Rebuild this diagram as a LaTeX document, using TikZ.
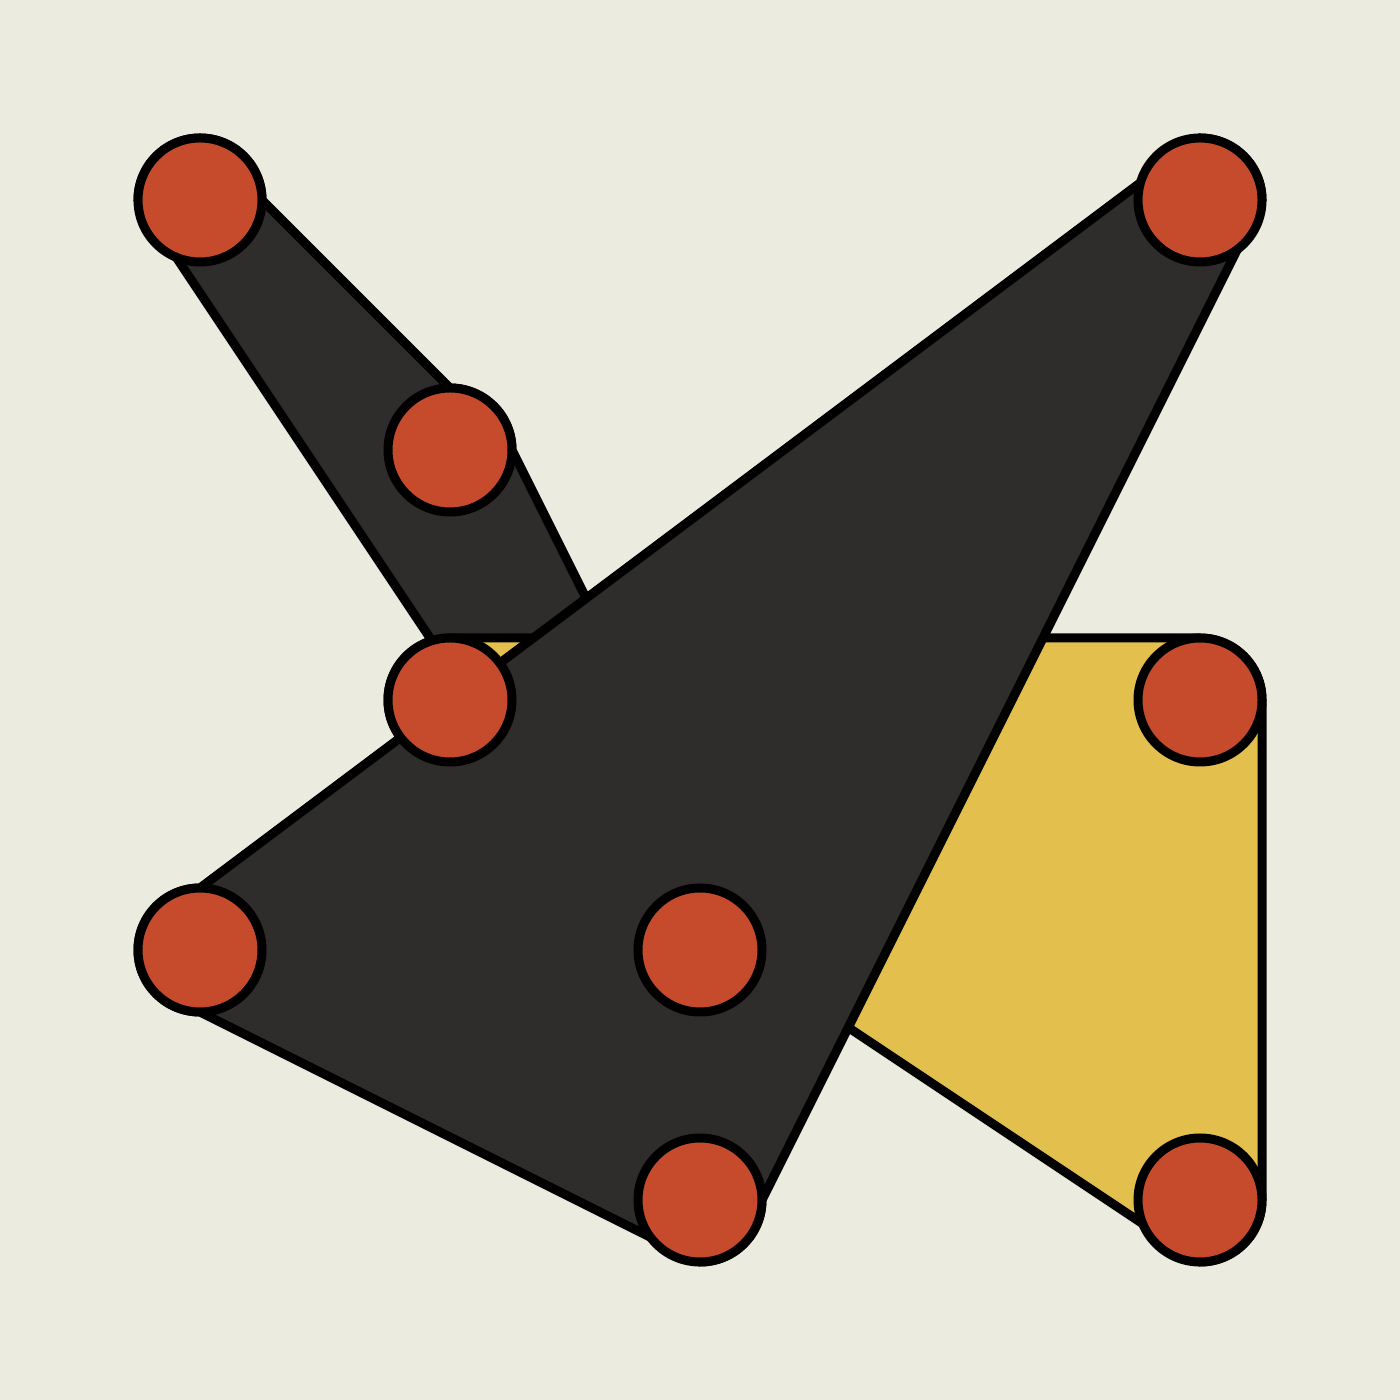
\documentclass[tikz,border=0pt]{standalone}
\usetikzlibrary{backgrounds}
\definecolor{paper}{HTML}{ECEBDF}
\definecolor{hulldark}{HTML}{2F2D2B}
\definecolor{hullgold}{HTML}{E3BF4D}
\definecolor{dotred}{HTML}{C64B2D}
\begin{document}
\begin{tikzpicture}
\tikzstyle{every node}=[minimum size=12.4mm, inner sep=0pt, outer sep=0pt, circle, draw=black, line width=0.9mm, fill=dotred]
\tikzstyle{hull}=[line width=0.9mm, draw=black, radius=6.2mm]
\draw (2,12) node (v1) {};
\draw (4.5,9.5) node (v2) {};
\draw (12,12) node (v3) {};
\draw (4.5,7) node (v4) {};
\draw (12,7) node (v5) {};
\draw (2,4.5) node (v6) {};
\draw (7,4.5) node (v7) {};
\draw (7,2) node (v8) {};
\draw (12,2) node (v9) {};
\begin{scope}[on background layer]
\fill[paper] (0,0) rectangle (14,14);
\draw[hull, fill=hulldark] (v1.west) arc[start angle=180, end angle=0] -- (v2.north) arc[start angle=90, end angle=0] -- (v7.east) arc[start angle=0, end angle=-180] -- cycle;
\draw[hull, fill=hullgold] (v4.north) -- (v5.north) arc[start angle=90, end angle=0] -- (v9.east) arc[start angle=0, end angle=-90] -- (v4.south) arc[start angle=270, end angle=90] -- cycle;
\draw[hull, fill=hulldark] (v6.north) arc[start angle=90, end angle=270] -- (v8.south) arc[start angle=270, end angle=360] -- (v3.east) arc[start angle=0, end angle=90] -- cycle;
\end{scope}
\end{tikzpicture}
\end{document}
